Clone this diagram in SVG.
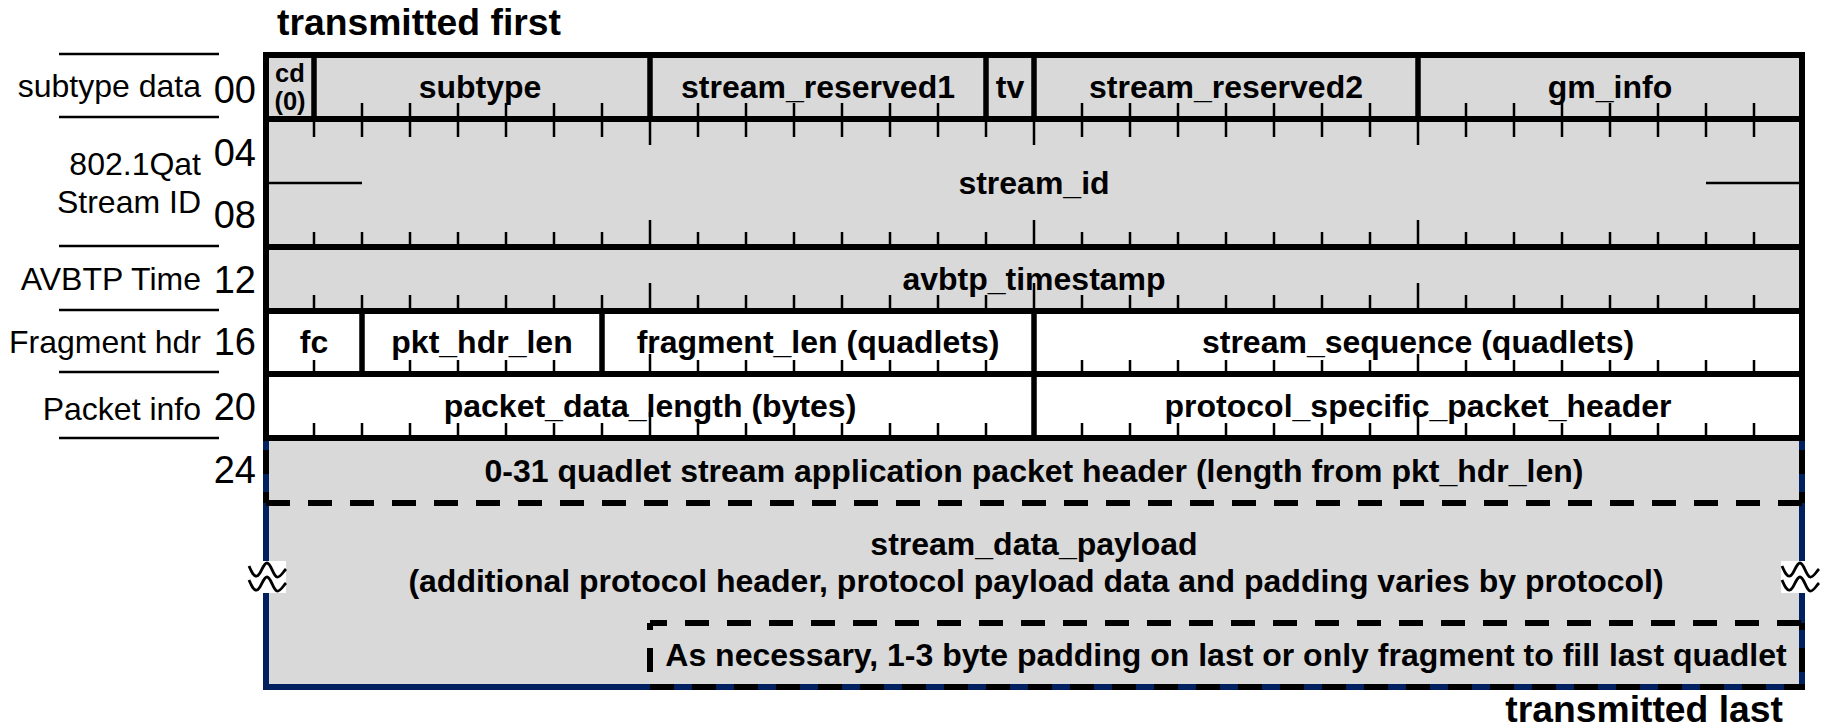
<svg xmlns="http://www.w3.org/2000/svg" width="1824" height="728" viewBox="0 0 1824 728">
<style>
text{font-family:"Liberation Sans",Arial,sans-serif;fill:#000}
.f{font-weight:bold;font-size:32px;text-anchor:middle}
.s{font-weight:bold;font-size:25.5px;text-anchor:middle}
.h{font-weight:bold;font-size:37.3px}
.l{font-size:32px;text-anchor:end}
.n{font-size:38px;text-anchor:end}
.row{stroke:#000;stroke-width:6;fill:none}
.div{stroke:#000;stroke-width:5.5;fill:none}
.tick{stroke:#000;stroke-width:2.5;fill:none}
.thin{stroke:#000;stroke-width:2.5;fill:none}
.dash{stroke:#000;stroke-width:6;fill:none;stroke-dasharray:24 18}
.navy{stroke:#002060;stroke-width:6;fill:none}
.gray{fill:#d9d9d9}
.wave{stroke:#000;stroke-width:2.8;fill:none}
</style>

<g id="backgrounds">
<rect class="gray" x="266" y="55" width="1536" height="256"/>
<rect x="266" y="311" width="1536" height="127" fill="#fff"/>
<rect class="gray" x="266" y="438" width="1536" height="249"/>
</g>

<g id="headings">
<text class="h" x="277" y="35">transmitted first</text>
<text class="h" x="1783" y="722" text-anchor="end">transmitted last</text>
</g>

<g id="row-labels">
<path class="thin" d="M59 54H219M59 117H219M59 246H219M59 310H219M59 372H219M59 438H219"/>
<text class="l" x="201" y="97">subtype data</text>
<text class="l" x="201" y="175">802.1Qat</text>
<text class="l" x="201" y="213">Stream ID</text>
<text class="l" x="201" y="290">AVBTP Time</text>
<text class="l" x="201" y="353">Fragment hdr</text>
<text class="l" x="201" y="420">Packet info</text>
<text class="n" x="256" y="103">00</text>
<text class="n" x="256" y="166">04</text>
<text class="n" x="256" y="228">08</text>
<text class="n" x="256" y="293">12</text>
<text class="n" x="256" y="355">16</text>
<text class="n" x="256" y="420">20</text>
<text class="n" x="256" y="483">24</text>
</g>

<g id="connectors">
<path class="tick" d="M362 119v-16M410 119v-16M458 119v-16M506 119v-16M554 119v-16M602 119v-16M698 119v-16M746 119v-16M794 119v-16M842 119v-16M890 119v-16M938 119v-16M1082 119v-16M1130 119v-16M1178 119v-16M1226 119v-16M1274 119v-16M1322 119v-16M1370 119v-16M1466 119v-16M1514 119v-16M1562 119v-16M1610 119v-16M1658 119v-16M1706 119v-16M1754 119v-16"/>
<path class="tick" d="M314 119v18M362 119v18M410 119v18M458 119v18M506 119v18M554 119v18M602 119v18M698 119v18M746 119v18M794 119v18M842 119v18M890 119v18M938 119v18M986 119v18M1082 119v18M1130 119v18M1178 119v18M1226 119v18M1274 119v18M1322 119v18M1370 119v18M1466 119v18M1514 119v18M1562 119v18M1610 119v18M1658 119v18M1706 119v18M1754 119v18M650 119v26M1034 119v26M1418 119v26"/>
<path class="tick" d="M314 247v-15M362 247v-15M410 247v-15M458 247v-15M506 247v-15M554 247v-15M602 247v-15M698 247v-15M746 247v-15M794 247v-15M842 247v-15M890 247v-15M938 247v-15M986 247v-15M1082 247v-15M1130 247v-15M1178 247v-15M1226 247v-15M1274 247v-15M1322 247v-15M1370 247v-15M1466 247v-15M1514 247v-15M1562 247v-15M1610 247v-15M1658 247v-15M1706 247v-15M1754 247v-15M650 247v-27M1034 247v-27M1418 247v-27"/>
<path class="tick" d="M314 311v-16M362 311v-16M410 311v-16M458 311v-16M506 311v-16M554 311v-16M602 311v-16M698 311v-16M746 311v-16M794 311v-16M842 311v-16M890 311v-16M938 311v-16M986 311v-16M1082 311v-16M1130 311v-16M1178 311v-16M1226 311v-16M1274 311v-16M1322 311v-16M1370 311v-16M1466 311v-16M1514 311v-16M1562 311v-16M1610 311v-16M1658 311v-16M1706 311v-16M1754 311v-16M650 311v-28M1034 311v-28M1418 311v-28"/>
<path class="tick" d="M314 374v-14M410 374v-14M458 374v-14M506 374v-14M554 374v-14M698 374v-14M746 374v-14M794 374v-14M842 374v-14M890 374v-14M938 374v-14M986 374v-14M1082 374v-14M1130 374v-14M1178 374v-14M1226 374v-14M1274 374v-14M1322 374v-14M1370 374v-14M1466 374v-14M1514 374v-14M1562 374v-14M1610 374v-14M1658 374v-14M1706 374v-14M1754 374v-14M650 374v-20M1418 374v-20"/>
<path class="tick" d="M314 438v-15M362 438v-15M410 438v-15M458 438v-15M506 438v-15M554 438v-15M602 438v-15M698 438v-15M746 438v-15M794 438v-15M842 438v-15M890 438v-15M938 438v-15M986 438v-15M1082 438v-15M1130 438v-15M1178 438v-15M1226 438v-15M1274 438v-15M1322 438v-15M1370 438v-15M1466 438v-15M1514 438v-15M1562 438v-15M1610 438v-15M1658 438v-15M1706 438v-15M1754 438v-15M650 438v-26M1418 438v-26"/>
<path class="thin" d="M266 183H362M1706 183H1802"/>
<path class="navy" d="M266 438V687H1802V438"/>
<path class="row" d="M263 55H1805M266 119H1802M266 247H1802M266 311H1802M266 374H1802M263 438H1805M266 52V438M1802 52V438"/>
<path class="div" d="M314 55V119M650 55V119M986 55V119M1034 55V119M1418 55V119M362 311V374M602 311V374M1034 311V438"/>
<path class="dash" d="M266 503H1802"/>
<path class="dash" style="stroke-dashoffset:30" d="M266 438V503M1802 438V503"/>
<path class="dash" style="stroke-dashoffset:7" d="M650 623H1802"/>
<path class="dash" style="stroke-dashoffset:17" d="M650 623V687M1802 623V687"/>
<path class="dash" d="M650 687H1805"/>
</g>

<g id="subtype-data">
<text class="s" x="290" y="82">cd</text>
<text class="s" x="290" y="110">(0)</text>
<text class="f" x="480" y="98">subtype</text>
<text class="f" x="818" y="98">stream_reserved1</text>
<text class="f" x="1010" y="98">tv</text>
<text class="f" x="1226" y="98">stream_reserved2</text>
<text class="f" x="1610" y="98">gm_info</text>
</g>

<g id="stream-id">
<text class="f" x="1034" y="194">stream_id</text>
</g>

<g id="avbtp-time">
<text class="f" x="1034" y="290">avbtp_timestamp</text>
</g>

<g id="fragment-hdr">
<text class="f" x="314" y="353">fc</text>
<text class="f" x="482" y="353">pkt_hdr_len</text>
<text class="f" x="818" y="353">fragment_len (quadlets)</text>
<text class="f" x="1418" y="353">stream_sequence (quadlets)</text>
</g>

<g id="packet-info">
<text class="f" x="650" y="417">packet_data_length (bytes)</text>
<text class="f" x="1418" y="417">protocol_specific_packet_header</text>
</g>

<g id="app-header">
<text class="f" x="1034" y="482">0-31 quadlet stream application packet header (length from pkt_hdr_len)</text>
</g>

<g id="payload">
<text class="f" x="1034" y="555">stream_data_payload</text>
<text class="f" x="1036" y="592">(additional protocol header, protocol payload data and padding varies by protocol)</text>
</g>

<g id="padding">
<text class="f" x="1226" y="666">As necessary, 1-3 byte padding on last or only fragment to fill last quadlet</text>
</g>

<g id="breaks">
<g id="break-left">
<rect x="248" y="561" width="38" height="32" fill="#fff"/>
<path class="wave" d="M249 566C252 573 254 577 257 576C261 575 263 563 267 563C271 563 273 576 277 577C280 578 283 572 286 569"/>
<path class="wave" d="M249 580C252 587 254 591 257 590C261 589 263 577 267 577C271 577 273 590 277 591C280 592 283 586 286 583"/>
</g>
<g id="break-right" transform="translate(1533 0)">
<rect x="248" y="561" width="35" height="32" fill="#fff"/>
<path class="wave" d="M249 566C252 573 254 577 257 576C261 575 263 563 267 563C271 563 273 576 277 577C280 578 283 572 286 569"/>
<path class="wave" d="M249 580C252 587 254 591 257 590C261 589 263 577 267 577C271 577 273 590 277 591C280 592 283 586 286 583"/>
</g>
</g>
</svg>
